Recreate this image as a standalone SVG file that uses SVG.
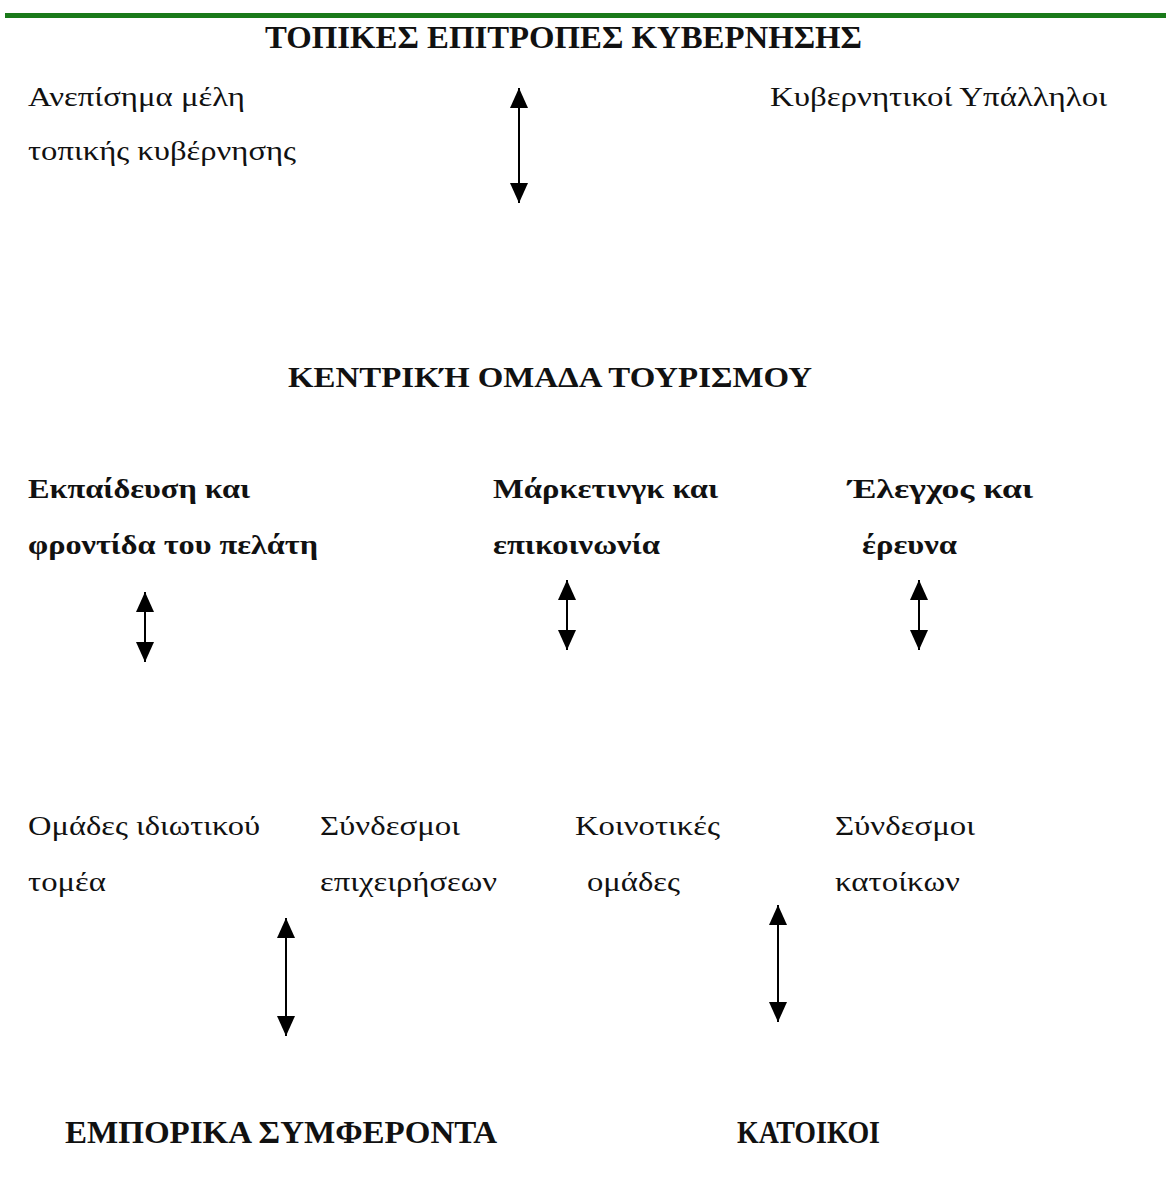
<svg xmlns="http://www.w3.org/2000/svg" width="1166" height="1193" viewBox="0 0 1166 1193">
<style>
text{font-family:"Liberation Serif","DejaVu Serif",serif;fill:#111;}
.t{font-size:31px;font-weight:bold;}
.h{font-size:29px;font-weight:bold;}
.b{font-size:27px;}
.bb{font-size:27px;font-weight:bold;}
.c{stroke:#000;stroke-width:2;fill:none;marker-start:url(#ah);marker-end:url(#ah);}
</style>
<defs>
<marker id="ah" markerUnits="userSpaceOnUse" markerWidth="20" markerHeight="20" refX="20" refY="9" orient="auto-start-reverse" viewBox="0 0 20 18">
<path d="M0,0 L20,9 L0,18 Z" fill="#000"/>
</marker>
</defs>
<rect width="1166" height="1193" fill="#fff"/>
<rect x="5" y="13" width="1161" height="5" fill="#1a7a1a"/>
<g id="top-title"><text class="t" x="265" y="48" textLength="597" lengthAdjust="spacingAndGlyphs">ΤΟΠΙΚΕΣ ΕΠΙΤΡΟΠΕΣ ΚΥΒΕΡΝΗΣΗΣ</text></g>
<g id="informal"><text class="b" x="28" y="106" textLength="217" lengthAdjust="spacingAndGlyphs">Ανεπίσημα μέλη</text><text class="b" x="28" y="160" textLength="268" lengthAdjust="spacingAndGlyphs">τοπικής κυβέρνησης</text></g>
<g id="officials"><text class="b" x="770" y="106" textLength="337" lengthAdjust="spacingAndGlyphs">Κυβερνητικοί Υπάλληλοι</text></g>
<g id="central"><text class="h" x="288" y="387" textLength="524" lengthAdjust="spacingAndGlyphs">ΚΕΝΤΡΙΚΉ ΟΜΑΔΑ ΤΟΥΡΙΣΜΟΥ</text></g>
<g id="education"><text class="bb" x="28" y="498" textLength="222" lengthAdjust="spacingAndGlyphs">Εκπαίδευση και</text><text class="bb" x="28" y="554" textLength="290" lengthAdjust="spacingAndGlyphs">φροντίδα του πελάτη</text></g>
<g id="marketing"><text class="bb" x="493" y="498" textLength="225" lengthAdjust="spacingAndGlyphs">Μάρκετινγκ και</text><text class="bb" x="493" y="554" textLength="167" lengthAdjust="spacingAndGlyphs">επικοινωνία</text></g>
<g id="control"><text class="bb" x="848" y="498" textLength="185" lengthAdjust="spacingAndGlyphs">Έλεγχος και</text><text class="bb" x="862" y="554" textLength="95" lengthAdjust="spacingAndGlyphs">έρευνα</text></g>
<g id="private"><text class="b" x="28" y="835" textLength="232" lengthAdjust="spacingAndGlyphs">Ομάδες ιδιωτικού</text><text class="b" x="28" y="891" textLength="78" lengthAdjust="spacingAndGlyphs">τομέα</text></g>
<g id="business"><text class="b" x="320" y="835" textLength="140" lengthAdjust="spacingAndGlyphs">Σύνδεσμοι</text><text class="b" x="320" y="891" textLength="177" lengthAdjust="spacingAndGlyphs">επιχειρήσεων</text></g>
<g id="community"><text class="b" x="575" y="835" textLength="145" lengthAdjust="spacingAndGlyphs">Κοινοτικές</text><text class="b" x="587" y="891" textLength="93" lengthAdjust="spacingAndGlyphs">ομάδες</text></g>
<g id="residents-assoc"><text class="b" x="835" y="835" textLength="140" lengthAdjust="spacingAndGlyphs">Σύνδεσμοι</text><text class="b" x="835" y="891" textLength="125" lengthAdjust="spacingAndGlyphs">κατοίκων</text></g>
<g id="commercial"><text class="t" x="65" y="1143" textLength="432" lengthAdjust="spacingAndGlyphs">ΕΜΠΟΡΙΚΑ ΣΥΜΦΕΡΟΝΤΑ</text></g>
<g id="residents"><text class="t" x="737" y="1143" textLength="143" lengthAdjust="spacingAndGlyphs">ΚΑΤΟΙΚΟΙ</text></g>
<g id="connectors">
<line class="c" x1="519" y1="88" x2="519" y2="203"/>
<line class="c" x1="145" y1="592" x2="145" y2="662"/>
<line class="c" x1="567" y1="580" x2="567" y2="650"/>
<line class="c" x1="919" y1="580" x2="919" y2="650"/>
<line class="c" x1="286" y1="918" x2="286" y2="1036"/>
<line class="c" x1="778" y1="905" x2="778" y2="1022"/>
</g>
</svg>
